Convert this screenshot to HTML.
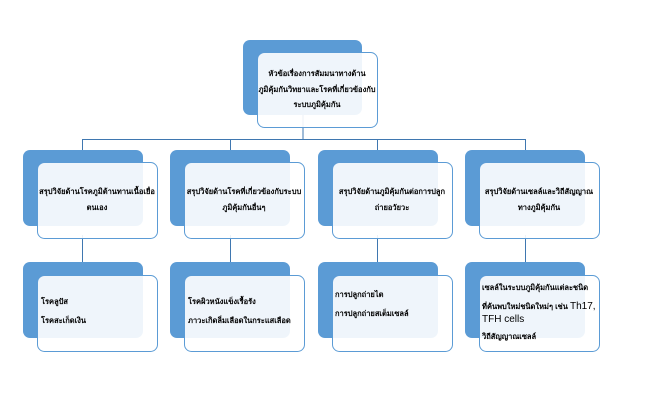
<!DOCTYPE html>
<html><head><meta charset="utf-8"><style>
body{margin:0;background:#fff;width:648px;height:408px;overflow:hidden}
svg text{font-family:"Liberation Sans","Noto Sans CJK SC",sans-serif;font-size:7.5px;fill:#000;font-weight:bold}
svg text .n, svg text.n{font-weight:normal;font-size:10px}
</style></head><body>
<svg width="648" height="408" xmlns="http://www.w3.org/2000/svg">
<g stroke="#3f77b0" stroke-width="1" fill="none">
<line x1="303" y1="110" x2="303" y2="139"/>
<line x1="82.5" y1="139.5" x2="525.5" y2="139.5"/>
<line x1="82.5" y1="139" x2="82.5" y2="152"/><line x1="230.5" y1="139" x2="230.5" y2="152"/>
<line x1="377.5" y1="139" x2="377.5" y2="152"/><line x1="525.5" y1="139" x2="525.5" y2="152"/>
<line x1="82.5" y1="235" x2="82.5" y2="264"/><line x1="230.5" y1="235" x2="230.5" y2="264"/>
<line x1="377.5" y1="235" x2="377.5" y2="264"/><line x1="525.5" y1="235" x2="525.5" y2="264"/>
</g>
<g fill="#5b9bd5">
<rect x="243" y="40" width="119" height="75" rx="7"/>
<rect x="23" y="150" width="120" height="76" rx="7"/><rect x="170" y="150" width="120" height="76" rx="7"/>
<rect x="318" y="150" width="120" height="76" rx="7"/><rect x="465" y="150" width="120" height="76" rx="7"/>
<rect x="23" y="262" width="120" height="76" rx="7"/><rect x="170" y="262" width="120" height="76" rx="7"/>
<rect x="318" y="262" width="120" height="76" rx="7"/><rect x="465" y="262" width="120" height="76" rx="7"/>
</g>
<g fill="#ffffff" fill-opacity="0.9" stroke="#5b9bd5" stroke-width="1">
<rect x="257.5" y="52.5" width="120" height="75" rx="7"/>
<rect x="37.5" y="162.5" width="120" height="76" rx="7"/><rect x="184.5" y="162.5" width="120" height="76" rx="7"/>
<rect x="332.5" y="162.5" width="120" height="76" rx="7"/><rect x="479.5" y="162.5" width="120" height="76" rx="7"/>
<rect x="37.5" y="275.5" width="120" height="76" rx="7"/><rect x="184.5" y="275.5" width="120" height="76" rx="7"/>
<rect x="332.5" y="275.5" width="120" height="76" rx="7"/><rect x="479.5" y="275.5" width="120" height="76" rx="7"/>
</g>
<g text-anchor="middle">
<text x="317" y="76">หัวข้อเรื่องการสัมมนาทางด้าน</text>
<text x="317" y="92">ภูมิคุ้มกันวิทยาและโรคที่เกี่ยวข้องกับ</text>
<text x="317" y="107">ระบบภูมิคุ้มกัน</text>
<text x="97" y="194">สรุปวิจัยด้านโรคภูมิต้านทานเนื้อเยื่อ</text>
<text x="97" y="210">ตนเอง</text>
<text x="244" y="194">สรุปวิจัยด้านโรคที่เกี่ยวข้องกับระบบ</text>
<text x="244" y="210">ภูมิคุ้มกันอื่นๆ</text>
<text x="392" y="194">สรุปวิจัยด้านภูมิคุ้มกันต่อการปลูก</text>
<text x="392" y="210">ถ่ายอวัยวะ</text>
<text x="539" y="194">สรุปวิจัยด้านเซลล์และวิถีสัญญาณ</text>
<text x="539" y="210">ทางภูมิคุ้มกัน</text>
</g>
<text x="41" y="304">โรคลูปัส</text>
<text x="41" y="323">โรคสะเก็ดเงิน</text>
<text x="188" y="304">โรคผิวหนังแข็งเรื้อรัง</text>
<text x="188" y="323">ภาวะเกิดลิ่มเลือดในกระแสเลือด</text>
<text x="335" y="297">การปลูกถ่ายไต</text>
<text x="335" y="316">การปลูกถ่ายสเต็มเซลล์</text>
<text x="482" y="290">เซลล์ในระบบภูมิคุ้มกันแต่ละชนิด</text>
<text x="482" y="309">ที่ค้นพบใหม่ชนิดใหม่ๆ เช่น <tspan class="n">Th17,</tspan></text>
<text x="482" y="322" class="n">TFH cells</text>
<text x="482" y="339">วิถีสัญญาณเซลล์</text>
</svg>
</body></html>
